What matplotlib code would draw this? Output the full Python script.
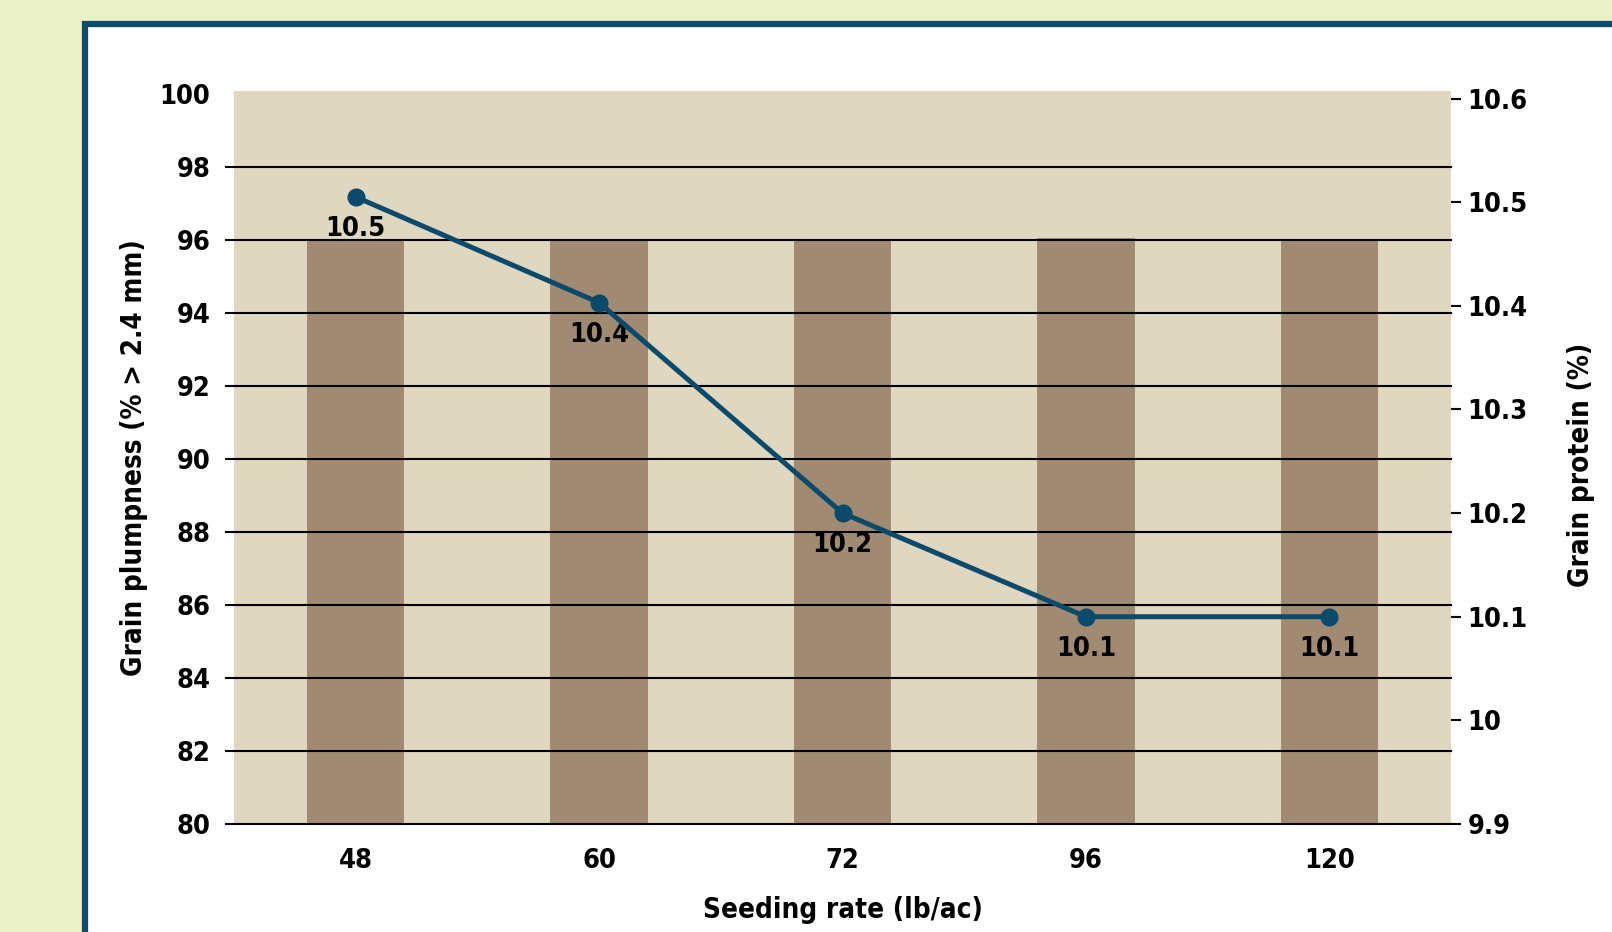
import matplotlib
matplotlib.use("Agg")
import matplotlib.pyplot as plt
from matplotlib.patches import Rectangle
import numpy as np

# datos
seeding_rate = ["48", "60", "72", "96", "120"]
plumpness = [96.0, 96.0, 96.0, 96.05, 96.0]
protein = [10.505, 10.403, 10.20, 10.10, 10.10]
protein_labels = ["10.5", "10.4", "10.2", "10.1", "10.1"]
left_ticks = [80, 82, 84, 86, 88, 90, 92, 94, 96, 98, 100]
right_ticks = [9.9, 10.0, 10.1, 10.2, 10.3, 10.4, 10.5, 10.6]
right_tick_labels = ["9.9", "10", "10.1", "10.2", "10.3", "10.4", "10.5", "10.6"]

fondo = "#EBF1C7"
borde = "#0D4C6E"
tan = "#DFD7BF"
barra = "#A08B72"
linea = "#0B4A6B"

plt.rcParams['font.family'] = ['DejaVu Sans']
plt.rcParams['font.stretch'] = 'condensed'
plt.rcParams['font.weight'] = 'bold'

fig = plt.figure(figsize=(16.12, 9.32), dpi=100)
fig.patch.set_facecolor(fondo)

# marco blanco con borde
fig.patches.append(Rectangle((85 / 1612, -0.1), 1.2, (932 - 24) / 932 + 0.1,
                             transform=fig.transFigure, facecolor="white",
                             edgecolor=borde, linewidth=4.5, zorder=-1))

ax = fig.add_axes([234 / 1612, (932 - 824) / 932, 1217 / 1612, 733 / 932])
ax.set_facecolor(tan)
x = np.arange(len(seeding_rate))
ax.bar(x, plumpness, width=0.40, color=barra, zorder=1)
ax.set_xlim(-0.5, len(seeding_rate) - 0.5)
ax.set_ylim(80, 100.08)
for s in ax.spines.values():
    s.set_visible(False)

for y in left_ticks[:-1]:
    ax.axhline(y, xmin=-0.0066, xmax=1, color="black", linewidth=1.5,
               clip_on=False, zorder=2)

ax.set_xticks(x)
ax.set_xticklabels(seeding_rate)
ax.set_yticks(left_ticks)
ax.set_yticklabels([str(t) for t in left_ticks])
ax.tick_params(axis='both', length=0, labelsize=19.5)
ax.tick_params(axis='y', pad=17)
ax.tick_params(axis='x', pad=17)
ax.set_xlabel("Seeding rate (lb/ac)", fontsize=20, fontweight='bold')
ax.xaxis.set_label_coords(0.5, -0.098)
ax.set_ylabel("Grain plumpness (% > 2.4 mm)", fontsize=20, fontweight='bold')
ax.yaxis.set_label_coords(-0.071, 0.5)

ax2 = ax.twinx()
ax2.set_ylim(9.9, 9.9 + (823 - 91) / 1035)
ax2.set_yticks(right_ticks)
ax2.set_yticklabels(right_tick_labels)
ax2.tick_params(axis='y', length=7, width=1.5, labelsize=19.5, pad=5)
for s in ax2.spines.values():
    s.set_visible(False)
ax2.plot(x, protein, color=linea, linewidth=3.6, marker='o', markersize=12,
         zorder=5, clip_on=False)
for xi, yi, lab in zip(x, protein, protein_labels):
    ax2.annotate(lab, (xi, yi), xytext=(0, -23), textcoords='offset points',
                 ha='center', va='center', fontsize=19.5, fontweight='bold')
ax2.set_ylabel("Grain protein (%)", fontsize=20, fontweight='bold')
ax2.yaxis.set_label_coords(1.095, 0.49)

fig.savefig("out.png", dpi=100, facecolor=fondo)
